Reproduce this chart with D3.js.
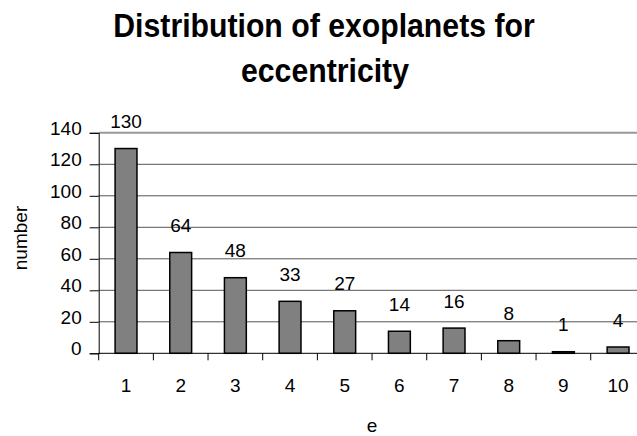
<!DOCTYPE html>
<html>
<head>
<meta charset="utf-8">
<script src="https://cdn.jsdelivr.net/npm/d3@7"></script>
<style>
    body { margin: 0; background: #fff; }
    svg { display: block; font-family: 'Liberation Sans', Arial, sans-serif; }
</style>
</head>
<body>
<div id="chart"></div>
<script>
// eccentricity bins and planet counts
var categories = ['1', '2', '3', '4', '5', '6', '7', '8', '9', '10'];
var counts = [130, 64, 48, 33, 27, 14, 16, 8, 1, 4];
var yTicks = [0, 20, 40, 60, 80, 100, 120, 140];

var width = 637,
    height = 436;
// plot area runs a little past the right edge, like the original
var plot = { left: 98.7, top: 132.8, width: 546.7, bottom: 353.3 };

var svg = d3.select('#chart').append('svg')
    .attr('width', width)
    .attr('height', height);

var x = d3.scaleBand()
    .domain(categories)
    .range([plot.left, plot.left + plot.width])
    .paddingInner(0.6)
    .paddingOuter(0.3);

// band edges for the tick marks (Excel puts them between categories)
var step = plot.width / categories.length;

var y = d3.scaleLinear()
    .domain([0, 140])
    .range([plot.bottom, plot.top]);

// title, the original font is a bit narrow so squeeze it
var sx = 0.93;
var title = svg.append('text')
    .attr('transform', 'scale(' + sx + ',1)')
    .attr('text-anchor', 'middle')
    .attr('font-weight', 'bold')
    .attr('font-size', 32.5)
    .attr('fill', '#000');
title.append('tspan').attr('x', 324 / sx).attr('y', 37).text('Distribution of exoplanets for');
title.append('tspan').attr('x', 325 / sx).attr('y', 82).text('eccentricity');

// gridlines
svg.append('g')
    .selectAll('line')
    .data(yTicks.filter(function (d) { return d > 0 && d < 140; }))
    .enter().append('line')
    .attr('x1', plot.left)
    .attr('x2', plot.left + plot.width)
    .attr('y1', function (d) { return y(d); })
    .attr('y2', function (d) { return y(d); })
    .attr('stroke', '#555')
    .attr('stroke-width', 1);

// top border line, lighter
svg.append('line')
    .attr('x1', plot.left)
    .attr('x2', plot.left + plot.width)
    .attr('y1', y(140))
    .attr('y2', y(140))
    .attr('stroke', '#999')
    .attr('stroke-width', 2);

// y axis
var yAxis = d3.axisLeft(y)
    .tickValues(yTicks)
    .tickSize(9)
    .tickPadding(8);
var gy = svg.append('g')
    .attr('transform', 'translate(' + plot.left + ',0)')
    .call(yAxis);
gy.select('.domain').attr('stroke', '#000');
gy.selectAll('.tick line').attr('stroke', '#000');
gy.selectAll('.tick text')
    .attr('font-family', "'Liberation Sans', Arial, sans-serif")
    .attr('font-size', 19)
    .attr('fill', '#000')
    .attr('dy', '0.08em');

// bars
svg.append('g')
    .selectAll('rect')
    .data(counts)
    .enter().append('rect')
    .attr('x', function (d, i) { return x(categories[i]); })
    .attr('width', x.bandwidth())
    .attr('y', function (d) { return y(d); })
    .attr('height', function (d) { return y(0) - y(d); })
    .attr('fill', '#808080')
    .attr('stroke', '#000')
    .attr('stroke-width', 1.5);

// x axis line and ticks
svg.append('line')
    .attr('x1', plot.left)
    .attr('x2', plot.left + plot.width)
    .attr('y1', y(0))
    .attr('y2', y(0))
    .attr('stroke', '#000')
    .attr('stroke-width', 1);

svg.append('g')
    .selectAll('line')
    .data(d3.range(categories.length + 1))
    .enter().append('line')
    .attr('x1', function (i) { return plot.left + i * step; })
    .attr('x2', function (i) { return plot.left + i * step; })
    .attr('y1', y(0))
    .attr('y2', y(0) + 7)
    .attr('stroke', '#000');

svg.append('g')
    .selectAll('text')
    .data(categories)
    .enter().append('text')
    .attr('x', function (d) { return x(d) + x.bandwidth() / 2; })
    .attr('y', 391.5)
    .attr('text-anchor', 'middle')
    .attr('font-size', 19)
    .text(function (d) { return d; });

// value labels
svg.append('g')
    .selectAll('text')
    .data(counts)
    .enter().append('text')
    .attr('x', function (d, i) { return x(categories[i]) + x.bandwidth() / 2; })
    .attr('y', function (d) { return y(d) - 20.5; })
    .attr('text-anchor', 'middle')
    .attr('font-size', 19)
    .text(function (d) { return d; });

// axis titles
svg.append('text')
    .attr('x', plot.left + plot.width / 2)
    .attr('y', 432)
    .attr('text-anchor', 'middle')
    .attr('font-size', 19)
    .text('e');

svg.append('text')
    .attr('transform', 'translate(27,' + 238 + ') rotate(-90)')
    .attr('text-anchor', 'middle')
    .attr('font-size', 19)
    .text('number');
</script>
</body>
</html>
